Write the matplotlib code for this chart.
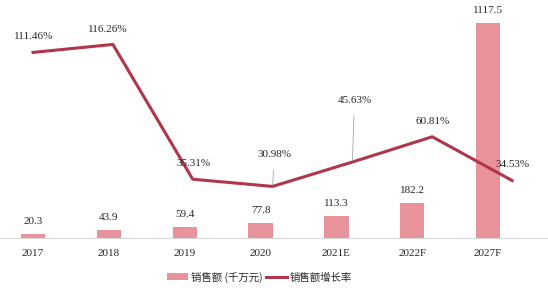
import matplotlib
matplotlib.use('Agg')
import matplotlib.pyplot as plt
from matplotlib.patches import Patch
from matplotlib.lines import Line2D

years = ['2017', '2018', '2019', '2020', '2021E', '2022F', '2027F']
sales = [20.3, 43.9, 59.4, 77.8, 113.3, 182.2, 1117.5]
growth = [111.46, 116.26, 35.31, 30.98, 45.63, 60.81, 34.53]
growth_labels = ['111.46%', '116.26%', '35.31%', '30.98%', '45.63%', '60.81%', '34.53%']

BAR_COLOR = '#e8939b'
LINE_COLOR = '#b0364a'
SERIF = ['Liberation Serif', 'DejaVu Serif']
CJK = ['Noto Sans CJK SC', 'DejaVu Sans']

W, H = 548, 292
fig = plt.figure(figsize=(W / 100, H / 100), dpi=100)
rect = [0, 54 / H, 1, 228 / H]

# bars
ax = fig.add_axes(rect)
xs = list(range(len(years)))
ax.bar(xs, sales, width=0.32, color=BAR_COLOR, zorder=2)
ax.set_xlim(-0.435, 6.79)
ax.set_ylim(0, 228 / 0.1924)
ax.set_xticks(xs)
ax.set_xticklabels(years, family=SERIF, fontsize=8, color='#262626')
ax.tick_params(axis='x', length=0, pad=8)
ax.set_yticks([])
for s in ['top', 'left', 'right']:
    ax.spines[s].set_visible(False)
ax.spines['bottom'].set_color('#d9d9d9')
ax.spines['bottom'].set_linewidth(0.8)
for x, v in zip(xs, sales):
    ax.annotate(f'{v:.1f}', (x, v), xytext=(0, 9), textcoords='offset points',
                ha='center', va='center', family=SERIF, fontsize=8, color='#262626')

# growth line (own x scale, slightly wider spacing than bars)
ax2 = fig.add_axes(rect, frameon=False)
ax2.plot(xs, growth, color=LINE_COLOR, linewidth=2.2, zorder=3)
ax2.set_xlim(-0.414, 6.45)
ax2.set_ylim(0, 228 / 1.665)
ax2.set_xticks([])
ax2.set_yticks([])

# label offsets in pixels (dx, dy) and whether a leader line is drawn
offsets = [(1, 16), (-5, 15), (1, 16), (2, 32), (2, 62), (0, 15), (0, 16)]
leaders = [False, False, False, True, True, False, False]
for x, v, lab, (dx, dy), ld in zip(xs, growth, growth_labels, offsets, leaders):
    props = None
    if ld:
        props = dict(arrowstyle='-', color='#a6a6a6', linewidth=0.6,
                     shrinkA=6, shrinkB=1)
    ax2.annotate(lab, (x, v), xytext=(dx * 0.72, dy * 0.72), textcoords='offset points',
                 ha='center', va='center', family=SERIF, fontsize=8, color='#262626',
                 arrowprops=props, zorder=4)

handles = [Patch(facecolor=BAR_COLOR, edgecolor='none'),
           Line2D([0], [0], color=LINE_COLOR, linewidth=2.2)]
leg = fig.legend(handles, ['销售额 (千万元)', '销售额增长率'], loc='center',
                 bbox_to_anchor=(0.474, 1 - 277 / H), ncol=2, frameon=False,
                 prop={'family': CJK, 'size': 7.5}, handlelength=2.0,
                 columnspacing=0.3, handletextpad=0.3)
for t in leg.get_texts():
    t.set_color('#262626')

fig.savefig('out.png', dpi=100)
